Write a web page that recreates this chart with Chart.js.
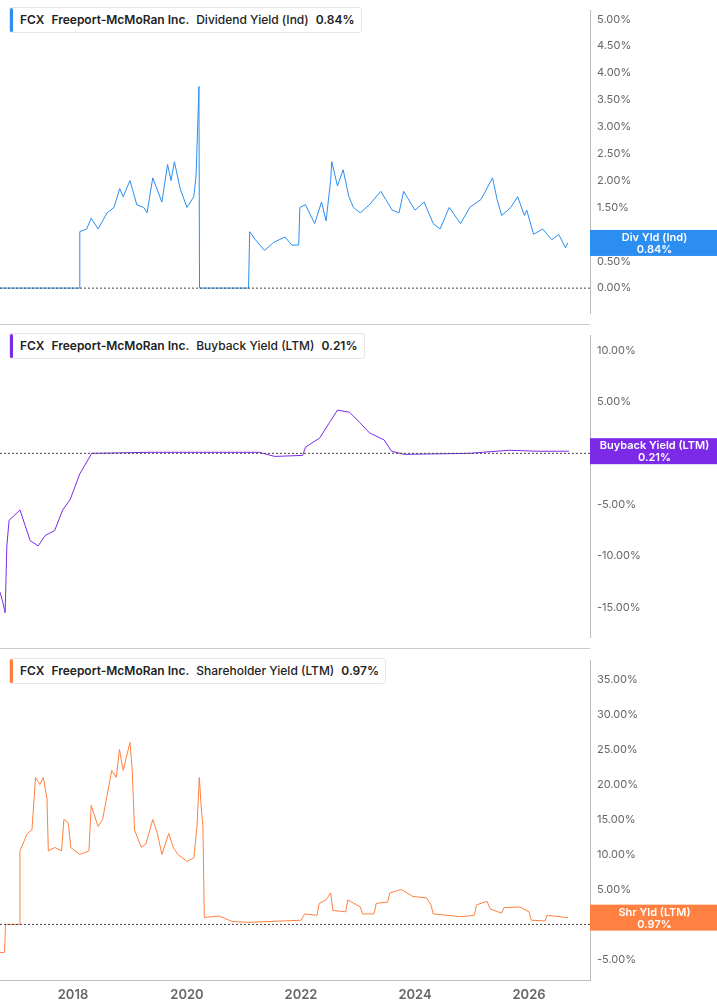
<!DOCTYPE html>
<html>
<head>
<meta charset="utf-8">
<script src="https://cdn.jsdelivr.net/npm/chart.js@4.4.1/dist/chart.umd.min.js"></script>
<style>
  body { margin: 0; background: #fff; font-family: Inter, "Noto Sans", sans-serif; overflow: hidden; }
  .panel { position: absolute; left: 0; width: 717px; }
  .sep { position: absolute; left: 0; width: 590px; height: 1px; background: #c8c8c8; }
  .legend {
    position: absolute; left: 9px; height: 24px; line-height: 24px;
    background: #fff; border: 1px solid #e6e6e6; border-radius: 3px;
    padding: 0 6px 0 10px; font-size: 12px; font-weight: 600; color: #222; white-space: nowrap;
  }
  .legend .bar { position: absolute; left: 0; top: 0; bottom: 0; width: 3px; border-radius: 2px; }
  .legend span { margin-right: 7px; }
</style>
</head>
<body>
<div class="panel" style="top:0;height:324px"><canvas id="divChart"></canvas></div>
<div class="panel" style="top:325px;height:323px"><canvas id="buyChart"></canvas></div>
<div class="panel" style="top:650px;height:355px"><canvas id="shrChart"></canvas></div>
<div class="sep" style="top:324px"></div>
<div class="sep" style="top:648px"></div>

<div class="legend" style="top:7px"><div class="bar" style="background:#2b8ef0"></div><span>FCX</span><span>Freeport-McMoRan Inc.</span><span style="font-weight:500">Dividend Yield (Ind)</span>0.84%</div>
<div class="legend" style="top:333px"><div class="bar" style="background:#7d2ae8"></div><span>FCX</span><span>Freeport-McMoRan Inc.</span><span style="font-weight:500">Buyback Yield (LTM)</span>0.21%</div>
<div class="legend" style="top:658px"><div class="bar" style="background:#ff7f3f"></div><span>FCX</span><span>Freeport-McMoRan Inc.</span><span style="font-weight:500">Shareholder Yield (LTM)</span>0.97%</div>

<script>
// --- datos (año decimal, %) ---
const divYears = [2016.72, 2018.12, 2018.12, 2018.24, 2018.32, 2018.44, 2018.6, 2018.72, 2018.82, 2018.88, 2019.0,
  2019.12, 2019.24, 2019.3, 2019.4, 2019.56, 2019.66, 2019.72, 2019.78, 2019.88, 2020.0, 2020.12, 2020.16, 2020.21,
  2020.22, 2021.08, 2021.1, 2021.2, 2021.36, 2021.52, 2021.72, 2021.84, 2021.96, 2021.98, 2022.08, 2022.24, 2022.36,
  2022.44, 2022.52, 2022.54, 2022.64, 2022.74, 2022.84, 2022.92, 2023.04, 2023.2, 2023.4, 2023.6, 2023.72, 2023.8,
  2024.0, 2024.16, 2024.32, 2024.44, 2024.6, 2024.8, 2024.96, 2025.16, 2025.36, 2025.44, 2025.52, 2025.68, 2025.8,
  2025.92, 2025.96, 2026.08, 2026.24, 2026.4, 2026.52, 2026.64, 2026.68];
const divValues = [0, 0, 1.05, 1.1, 1.3, 1.1, 1.4, 1.5, 1.85, 1.7, 2.0,
  1.55, 1.5, 1.4, 2.05, 1.6, 2.3, 2.0, 2.35, 1.85, 1.5, 1.7, 2.1, 3.75,
  0, 0, 1.05, 0.9, 0.7, 0.85, 0.95, 0.8, 0.8, 1.5, 1.55, 1.2, 1.6,
  1.25, 2.0, 2.35, 1.9, 2.2, 1.7, 1.5, 1.4, 1.55, 1.8, 1.45, 1.4, 1.8,
  1.45, 1.6, 1.2, 1.1, 1.5, 1.2, 1.5, 1.65, 2.05, 1.65, 1.35, 1.5, 1.7,
  1.35, 1.45, 1.0, 1.1, 0.9, 1.0, 0.75, 0.84];

const buyYears = [16.72, 16.77, 16.81, 16.84, 16.88, 16.98, 17.07, 17.16, 17.25, 17.39, 17.51, 17.68, 17.82, 17.95,
  18.12, 18.33, 19.35, 21.27, 21.54, 22.03, 22.08, 22.33, 22.5, 22.64, 22.85, 23.03, 23.2, 23.46, 23.59, 23.81,
  24.95, 25.65, 26.18, 26.7].map(function (v) { return 2000 + v; });
const buyValues = [-13.5, -14.5, -15.5, -9, -6.5, -6, -5.5, -7, -8.5, -9, -8, -7.5, -5.5, -4.5,
  -2, 0, 0.1, 0.1, -0.3, -0.2, 0.6, 1.5, 3, 4.2, 4, 3, 2, 1.3, 0.2, -0.1,
  0, 0.3, 0.2, 0.21];

const shrYears = [16.72, 16.8, 16.816, 17.056, 17.07, 17.2, 17.28, 17.344, 17.42, 17.48, 17.544, 17.568, 17.68, 17.8,
  17.84, 17.92, 17.96, 18.12, 18.28, 18.32, 18.44, 18.52, 18.6, 18.68, 18.76, 18.816, 18.88, 19.0, 19.04, 19.08,
  19.2, 19.28, 19.4, 19.48, 19.56, 19.68, 19.76, 19.84, 20.0, 20.12, 20.176, 20.216, 20.248, 20.28, 20.304, 20.56,
  20.8, 21.08, 22.0, 22.064, 22.28, 22.32, 22.44, 22.52, 22.56, 22.784, 22.82, 23.04, 23.08, 23.28, 23.32, 23.52,
  23.56, 23.76, 23.96, 24.2, 24.28, 24.32, 24.8, 25.04, 25.08, 25.264, 25.32, 25.52, 25.56, 25.84, 26.0, 26.04,
  26.28, 26.32, 26.68].map(function (v) { return 2000 + v; });
const shrValues = [-4, -4, 0, 0, 10.5, 13, 13.5, 21, 20, 21, 18, 10.5, 11, 10.5,
  15, 14.5, 11, 10, 10.5, 17, 14, 15, 18.5, 22, 21, 25, 22, 26, 22, 13.5,
  11, 11.5, 15, 13, 10, 13, 11, 10, 9, 9.5, 14, 21, 17, 14, 1.0, 1.2,
  0.4, 0.3, 0.6, 1.5, 1.3, 3, 3.5, 4.5, 2, 1.8, 3.5, 2.5, 1.5, 1.5, 3, 3.2,
  4.5, 5, 4, 3.8, 2.8, 1.5, 1.1, 1.3, 2.8, 3.3, 2.2, 1.6, 2.4, 2.5, 1.8, 0.6,
  0.5, 1.3, 0.97];

const xMin = 2016.72, xMax = 2027.07;
const yearTicks = [2018, 2020, 2022, 2024, 2026];

function pts(xs, ys) { return xs.map(function (x, i) { return { x: x, y: ys[i] }; }); }

// línea punteada en 0 y etiqueta del último valor
const extras = {
  id: 'extras',
  afterDatasetsDraw: function (chart, args, opts) {
    const ctx = chart.ctx, area = chart.chartArea, y = chart.scales.y;
    const y0 = y.getPixelForValue(0);
    ctx.save();
    ctx.strokeStyle = '#444';
    ctx.lineWidth = 1;
    ctx.setLineDash([2, 2]);
    ctx.beginPath(); ctx.moveTo(area.left, y0); ctx.lineTo(area.right, y0); ctx.stroke();
    ctx.setLineDash([]);
    const yl = y.getPixelForValue(opts.last);
    ctx.fillStyle = opts.color;
    ctx.fillRect(area.right, yl - 13, chart.width - area.right, 26);
    ctx.fillStyle = '#fff';
    ctx.font = '600 11px Inter';
    ctx.textAlign = 'center';
    const cx = (area.right + chart.width) / 2 + 1;
    ctx.fillText(opts.label, cx, yl - 2);
    ctx.fillText(opts.last.toFixed(2) + '%', cx, yl + 10);
    ctx.restore();
  }
};

function makeChart(id, xs, ys, color, yMin, yMax, step, label, showX) {
  return new Chart(document.getElementById(id), {
    type: 'line',
    data: { datasets: [{ data: pts(xs, ys), borderColor: color, borderWidth: 1, pointRadius: 0, tension: 0 }] },
    options: {
      responsive: true,
      maintainAspectRatio: false,
      animation: false,
      layout: { padding: { top: -10, bottom: showX ? 0 : -10 } },
      scales: {
        x: {
          type: 'linear', min: xMin, max: xMax, display: showX,
          grid: { display: false, drawOnChartArea: false, drawTicks: true, tickLength: 5, color: '#999' },
          border: { color: '#bbb' },
          afterBuildTicks: function (s) { s.ticks = yearTicks.map(function (v) { return { value: v }; }); },
          ticks: { color: '#666', font: { family: 'Inter', size: 13, weight: '600' }, padding: 2,
            callback: function (v) { return String(v); } }
        },
        y: {
          position: 'right', min: yMin, max: yMax,
          afterFit: function (s) { s.width = 127; },
          afterBuildTicks: function (s) {
            const t = [];
            for (let k = Math.ceil(yMin / step); k <= Math.floor(yMax / step); k++) t.push({ value: k * step });
            s.ticks = t;
          },
          grid: { display: false, drawTicks: true, tickLength: 3, color: '#999' },
          border: { color: '#bbb' },
          ticks: { color: '#666', font: { family: 'Inter', size: 11 }, padding: 4, autoSkip: false,
            callback: function (v) { return v.toFixed(2) + '%'; } }
        }
      },
      plugins: { legend: { display: false }, tooltip: { enabled: false }, extras: { color: color, last: ys[ys.length - 1], label: label } }
    },
    plugins: [extras]
  });
}

document.addEventListener('DOMContentLoaded', function () {
  makeChart('divChart', divYears, divValues, '#2b8ef0', -0.47, 5.16, 0.5, 'Div Yld (Ind)', false);
  makeChart('buyChart', buyYears, buyValues, '#7d2ae8', -17.9, 11.45, 5, 'Buyback Yield (LTM)', false);
  makeChart('shrChart', shrYears, shrValues, '#ff8040', -8.0, 37.7, 5, 'Shr Yld (LTM)', true);
});
</script>
</body>
</html>
